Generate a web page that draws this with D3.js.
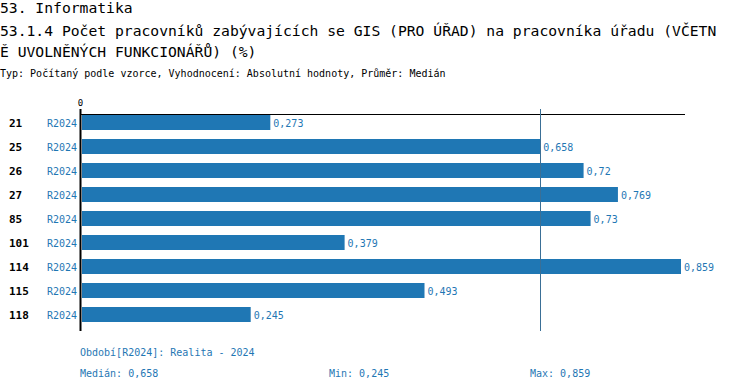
<!DOCTYPE html>
<html>
<head>
<meta charset="utf-8">
<script src="https://cdn.jsdelivr.net/npm/d3@7"></script>
<style>
  body { margin: 0; background: #fff; }
  text { font-family: "DejaVu Sans Mono", monospace; }
</style>
</head>
<body>
<div class="canvas"></div>
<script>
const categories = ['21', '25', '26', '27', '85', '101', '114', '115', '118'];
const values = [0.273, 0.658, 0.72, 0.769, 0.73, 0.379, 0.859, 0.493, 0.245];
const period = 'R2024';
const median = 0.658;

const titleLines = [
  '53. Informatika',
  '53.1.4 Počet pracovníků zabývajících se GIS (PRO ÚŘAD) na pracovníka úřadu (VČETN',
  'Ě UVOLNĚNÝCH FUNKCIONÁŘŮ) (%)'
];
const subtitle = 'Typ: Počítaný podle vzorce, Vyhodnocení: Absolutní hodnoty, Průměr: Medián';

const blue = '#1f77b4';
const fmt = v => String(v).replace('.', ',');

const svg = d3.select('.canvas')
  .append('svg')
  .attr('width', 750)
  .attr('height', 390);

// titles
svg.selectAll('.title')
  .data(titleLines)
  .enter().append('text')
  .attr('class', 'title')
  .attr('x', 0)
  .attr('y', (d, i) => [13, 36, 57][i])
  .attr('font-size', '14.7px')
  .attr('fill', '#000')
  .text(d => d);

svg.append('text')
  .attr('x', 0)
  .attr('y', 77)
  .attr('font-size', '10px')
  .attr('fill', '#000')
  .text(subtitle);

const x = d3.scaleLinear().domain([0, 0.859]).range([79, 681]);
const y = d3.scaleBand()
  .domain(categories)
  .range([110.5, 326.5])
  .paddingInner(0.375)
  .paddingOuter(0.1875);

// bars
svg.selectAll('.bar')
  .data(values)
  .enter().append('rect')
  .attr('class', 'bar')
  .attr('x', x(0) + 3)
  .attr('y', (d, i) => y(categories[i]))
  .attr('width', d => x(d) - x(0) - 3)
  .attr('height', y.bandwidth())
  .attr('fill', blue);

svg.selectAll('.val')
  .data(values)
  .enter().append('text')
  .attr('class', 'val')
  .attr('x', d => x(d) + 3)
  .attr('y', (d, i) => y(categories[i]) + y.bandwidth() / 2 + 4)
  .attr('font-size', '10px')
  .attr('fill', blue)
  .text(d => fmt(d));

// category labels
svg.selectAll('.cat')
  .data(categories)
  .enter().append('text')
  .attr('class', 'cat')
  .attr('x', 9)
  .attr('y', d => y(d) + y.bandwidth() / 2 + 4)
  .attr('font-size', '11px')
  .attr('font-weight', 'bold')
  .attr('fill', '#000')
  .text(d => d);

svg.selectAll('.per')
  .data(categories)
  .enter().append('text')
  .attr('class', 'per')
  .attr('x', 77)
  .attr('y', d => y(d) + y.bandwidth() / 2 + 4)
  .attr('text-anchor', 'end')
  .attr('font-size', '10px')
  .attr('fill', blue)
  .text(period);

// axes
svg.append('line')
  .attr('x1', 80).attr('x2', 685)
  .attr('y1', 114.5).attr('y2', 114.5)
  .attr('stroke', '#000').attr('stroke-width', 1);

svg.append('line')
  .attr('x1', x(0) + 1.5).attr('x2', x(0) + 1.5)
  .attr('y1', 109).attr('y2', 331)
  .attr('stroke', '#000').attr('stroke-width', 2);

svg.append('text')
  .attr('x', x(0) + 1.5)
  .attr('y', 106)
  .attr('text-anchor', 'middle')
  .attr('font-size', '9px')
  .attr('fill', '#000')
  .text('0');

// median line
svg.append('line')
  .attr('x1', Math.round(x(median)) + 0.5).attr('x2', Math.round(x(median)) + 0.5)
  .attr('y1', 109).attr('y2', 331)
  .attr('stroke', '#3a6f96').attr('stroke-width', 1);

// footer
svg.append('text')
  .attr('x', 80).attr('y', 356)
  .attr('font-size', '10px').attr('fill', blue)
  .text('Období[' + period + ']: Realita - 2024');

const stats = [
  ['Medián: ' + fmt(median), 80],
  ['Min: ' + fmt(d3.min(values)), 329],
  ['Max: ' + fmt(d3.max(values)), 530]
];
svg.selectAll('.stat')
  .data(stats)
  .enter().append('text')
  .attr('class', 'stat')
  .attr('x', d => d[1]).attr('y', 377)
  .attr('font-size', '10px').attr('fill', blue)
  .text(d => d[0]);
</script>
</body>
</html>
